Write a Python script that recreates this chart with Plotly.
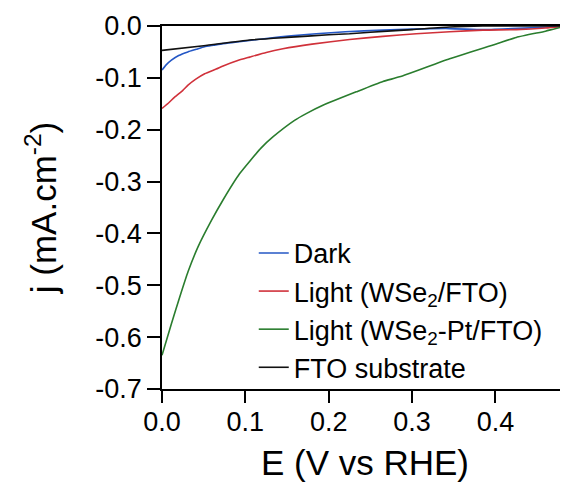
import plotly.graph_objects as go

# Dark
dark_E = [0.0, 0.005, 0.0113, 0.02, 0.031, 0.041, 0.051, 0.062, 0.073, 0.09, 0.105, 0.13, 0.155, 0.185, 0.22, 0.265, 0.30, 0.345, 0.385, 0.42, 0.45, 0.487]
dark_j = [-0.085, -0.075, -0.066, -0.057, -0.050, -0.045, -0.040, -0.037, -0.034, -0.031, -0.028, -0.023, -0.019, -0.015, -0.011, -0.008, -0.006, -0.005, -0.007, -0.005, -0.003, 0.0]

# Light (WSe2/FTO)
red_E = [0.0, 0.0075, 0.0152, 0.025, 0.0312, 0.041, 0.0512, 0.065, 0.0733, 0.09, 0.105, 0.125, 0.145, 0.18, 0.225, 0.265, 0.305, 0.345, 0.385, 0.425, 0.46, 0.487]
red_j = [-0.159, -0.149, -0.137, -0.124, -0.114, -0.102, -0.092, -0.083, -0.077, -0.067, -0.060, -0.051, -0.044, -0.035, -0.026, -0.020, -0.015, -0.011, -0.008, -0.007, -0.004, 0.0]

# Light (WSe2-Pt/FTO)
green_E = [0.0, 0.0113, 0.0212, 0.0312, 0.0432, 0.0593, 0.073, 0.093, 0.119, 0.133, 0.159, 0.173, 0.193, 0.233, 0.265, 0.285, 0.345, 0.40, 0.425, 0.46, 0.481, 0.487]
green_j = [-0.635, -0.574, -0.523, -0.474, -0.426, -0.375, -0.336, -0.285, -0.235, -0.214, -0.182, -0.169, -0.153, -0.127, -0.107, -0.098, -0.063, -0.035, -0.022, -0.010, -0.002, -0.008]

# FTO substrate
fto_E = [0.0, 0.05, 0.105, 0.15, 0.2, 0.225, 0.25, 0.3, 0.345, 0.385, 0.43, 0.487]
fto_j = [-0.047, -0.038, -0.027, -0.022, -0.017, -0.015, -0.012, -0.007, -0.002, 0.0, 0.0, 0.0]

x_ticks = [0.0, 0.1, 0.2, 0.3, 0.4]
y_ticks = [0.0, -0.1, -0.2, -0.3, -0.4, -0.5, -0.6, -0.7]

FONT = "Arial, Liberation Sans, sans-serif"

fig = go.Figure()
series = [
    ("Dark", dark_E, dark_j, "#2457c5"),
    ("Light (WSe<sub>2</sub>/FTO)", red_E, red_j, "#d0313a"),
    ("Light (WSe<sub>2</sub>-Pt/FTO)", green_E, green_j, "#2a7d2e"),
    ("FTO substrate", fto_E, fto_j, "#111111"),
]
for name, xs, ys, col in series:
    fig.add_trace(go.Scatter(x=xs, y=ys, mode="lines", name=name,
                             line=dict(color=col, width=1.6, shape="spline", smoothing=0.5)))

# the page body adds an 8px offset; figure is sized to fill the rest of the window
fig.update_layout(
    width=560, height=474,
    margin=dict(l=154, r=0, t=18, b=93),
    paper_bgcolor="white", plot_bgcolor="white",
    font=dict(family=FONT, color="black"),
    showlegend=True,
    legend=dict(x=0.226, y=0.441, xanchor="left", yanchor="top",
                font=dict(size=27, family=FONT, color="black"),
                bgcolor="rgba(0,0,0,0)", tracegroupgap=0, itemwidth=30),
    xaxis=dict(range=[0, 0.487], tickvals=x_ticks, ticktext=[f"{v:.1f}" for v in x_ticks],
               showgrid=False, zeroline=False, showline=True, linecolor="black", linewidth=1.6,
               mirror=True, ticks="outside", ticklen=12, tickwidth=1.6, tickcolor="black",
               tickfont=dict(size=27, family=FONT), automargin=False, ticklabelstandoff=-4,
               title=dict(text="E (V vs RHE)", font=dict(size=35, family=FONT), standoff=15)),
    yaxis=dict(range=[-0.7, 0.0], tickvals=y_ticks, ticktext=[f"{v:.1f}" for v in y_ticks],
               showgrid=False, zeroline=False, showline=True, linecolor="black", linewidth=1.6,
               ticks="outside", ticklen=13, tickwidth=1.6, tickcolor="black",
               tickfont=dict(size=27, family=FONT), automargin=False,
               title=dict(text="j (mA.cm<sup>-2</sup>)", font=dict(size=35, family=FONT), standoff=28)),
)

fig.write_html("out.html")
